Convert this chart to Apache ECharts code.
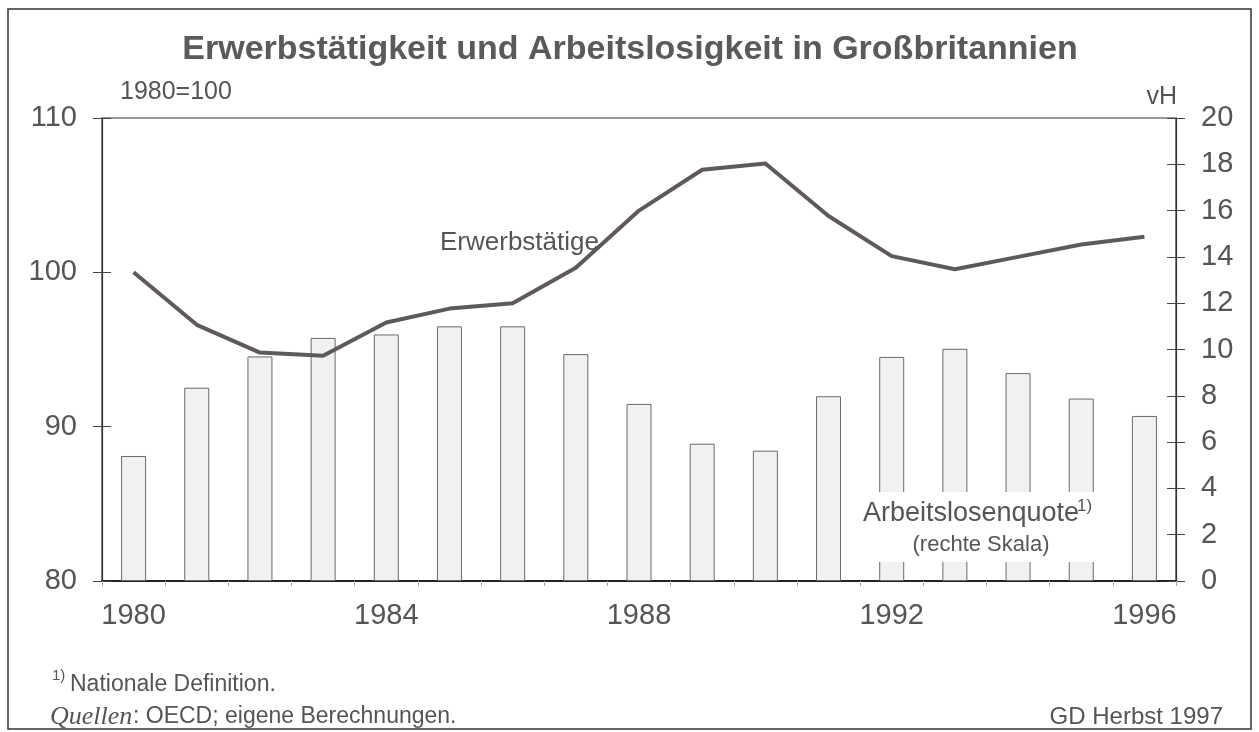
<!DOCTYPE html>
<html>
<head>
<meta charset="utf-8">
<script src="https://cdn.jsdelivr.net/npm/echarts@6/dist/echarts.min.js"></script>
<style>
html,body{margin:0;padding:0;background:#fff;}
#chart{width:1259px;height:732px;}
</style>
</head>
<body>
<div id="chart"></div>
<script>
// ---- data ----
var years = ['1980','1981','1982','1983','1984','1985','1986','1987','1988','1989','1990','1991','1992','1993','1994','1995','1996'];
var erwerbstaetige = [100.0, 96.6, 94.8, 94.6, 96.75, 97.65, 98.0, 100.3, 104.0, 106.65, 107.05, 103.65, 101.05, 100.2, 101.0, 101.8, 102.3];
var arbeitslosenquote = [5.4, 8.35, 9.7, 10.5, 10.65, 11.0, 11.0, 9.8, 7.65, 5.93, 5.63, 7.98, 9.68, 10.03, 8.98, 7.88, 7.13];
var leftTicks = [80, 90, 100, 110];
var rightTicks = [0, 2, 4, 6, 8, 10, 12, 14, 16, 18, 20];

var titleText = 'Erwerbstätigkeit und Arbeitslosigkeit in Großbritannien';
var FONT = '"Liberation Sans", Arial, Helvetica, sans-serif';
var GREY = '#555555';

var chart = echarts.init(document.getElementById('chart'), null, {renderer: 'canvas'});

function txt(x, y, text, size, opts) {
  opts = opts || {};
  return {
    type: 'text', x: x, y: y, z: 120,
    style: {
      text: text,
      fontSize: size,
      fontFamily: opts.family || FONT,
      fontStyle: opts.italic ? 'italic' : 'normal',
      fontWeight: opts.bold ? 'bold' : 'normal',
      fill: opts.color || GREY,
      align: opts.align || 'left',
      verticalAlign: opts.valign || 'middle'
    }
  };
}

var option = {
  backgroundColor: '#ffffff',
  animation: false,
  title: {
    text: titleText,
    left: 630,
    top: 33,
    padding: 0,
    textAlign: 'center',
    textStyle: {fontFamily: FONT, fontSize: 34, fontWeight: 'bold', color: '#5a5a5a'}
  },
  grid: {
    left: 102, right: 83, top: 118, bottom: 151,
    show: true, borderColor: '#333', borderWidth: 1.2, backgroundColor: 'transparent'
  },
  xAxis: {
    type: 'category',
    data: years,
    boundaryGap: true,
    axisLine: {show: true, lineStyle: {color: '#222', width: 2}},
    axisTick: {show: true, interval: 0, length: 5, lineStyle: {color: '#aaa'}},
    axisLabel: {interval: 3, margin: 20, fontFamily: FONT, fontSize: 29, color: GREY},
    splitLine: {show: false}
  },
  yAxis: [
    {
      type: 'value', position: 'left',
      min: leftTicks[0], max: leftTicks[leftTicks.length - 1], interval: leftTicks[1] - leftTicks[0],
      axisLine: {show: true, lineStyle: {color: '#333', width: 1.2}},
      axisTick: {show: true, length: 9, lineStyle: {color: '#444'}},
      axisLabel: {margin: 25, fontFamily: FONT, fontSize: 29, color: GREY, padding: [0, 0, 14, 0]},
      splitLine: {show: false}
    },
    {
      type: 'value', position: 'right',
      min: rightTicks[0], max: rightTicks[rightTicks.length - 1], interval: rightTicks[1] - rightTicks[0],
      axisLine: {show: true, lineStyle: {color: '#333', width: 1.2}},
      axisTick: {show: true, length: 9, lineStyle: {color: '#444'}},
      axisLabel: {margin: 25, fontFamily: FONT, fontSize: 29, color: GREY, padding: [0, 0, 12, 0]},
      splitLine: {show: false}
    },
    {
      type: 'value', position: 'left',
      min: leftTicks[0], max: leftTicks[leftTicks.length - 1], interval: leftTicks[1] - leftTicks[0],
      axisLine: {show: false},
      axisTick: {show: true, inside: true, length: 9, lineStyle: {color: '#444'}},
      axisLabel: {show: false},
      splitLine: {show: false}
    },
    {
      type: 'value', position: 'right',
      min: rightTicks[0], max: rightTicks[rightTicks.length - 1], interval: rightTicks[1] - rightTicks[0],
      axisLine: {show: false},
      axisTick: {show: true, inside: true, length: 9, lineStyle: {color: '#444'}},
      axisLabel: {show: false},
      splitLine: {show: false}
    }
  ],
  series: [
    {
      name: 'Arbeitslosenquote',
      type: 'bar',
      yAxisIndex: 1,
      data: arbeitslosenquote,
      barWidth: 25,
      itemStyle: {color: '#f1f1f1', borderColor: '#6a6a6a', borderWidth: 1},
      z: 2
    },
    {
      name: 'Erwerbstätige',
      type: 'line',
      yAxisIndex: 0,
      data: erwerbstaetige,
      symbol: 'none',
      lineStyle: {color: '#5e595d', width: 4},
      z: 5
    }
  ],
  graphic: [
    {type: 'rect', z: 110, shape: {x: 858, y: 492, width: 245, height: 70}, style: {fill: '#ffffff'}},
    txt(120, 92, '1980=100', 25),
    txt(1177, 97, 'vH', 25, {align: 'right'}),
    txt(440, 243, 'Erwerbstätige', 26),
    txt(971, 514, 'Arbeitslosenquote', 27, {align: 'center'}),
    txt(1077, 506, '1)', 17),
    txt(981, 545, '(rechte Skala)', 22, {align: 'center'}),
    txt(52, 676, '1)', 15),
    txt(70, 685, 'Nationale Definition.', 23),
    txt(50, 717, 'Quellen', 26, {family: '"Liberation Serif", "Times New Roman", serif', italic: true}),
    txt(133, 717, ': OECD; eigene Berechnungen.', 23),
    txt(1223, 717, 'GD Herbst 1997', 24, {align: 'right'}),
    {type: 'rect', z: 0, shape: {x: 8, y: 9, width: 1243, height: 720}, style: {fill: 'none', stroke: '#333', lineWidth: 1.5}}
  ]
};
chart.setOption(option);
</script>
</body>
</html>
